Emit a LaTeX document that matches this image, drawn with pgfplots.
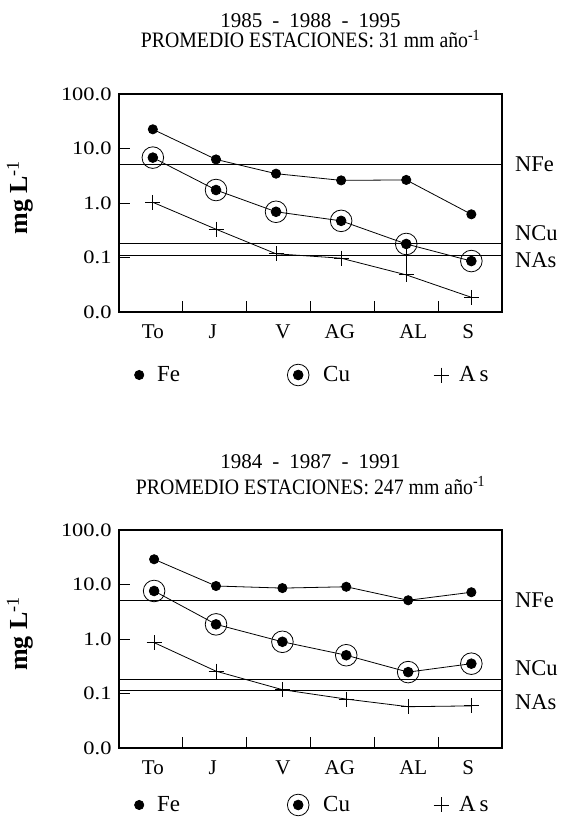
\documentclass[border=0pt]{standalone}
\usepackage{fontspec}
\setmainfont{Liberation Serif}
\newfontfamily\ywide{Liberation Serif}[FakeStretch=1.18]
\newfontfamily\tnarrow{Liberation Serif}[FakeStretch=0.9]
\usepackage{pgfplots}
\pgfplotsset{compat=1.18}

\pgfdeclareplotmark{cuo}{%
  \pgfpathcircle{\pgfpointorigin}{\pgfplotmarksize}\pgfusepathqstroke
  \pgfpathcircle{\pgfpointorigin}{0.45\pgfplotmarksize}\pgfusepathqfillstroke}

\pgfplotsset{legend image code/.code={%
     \path[draw=none, fill=none, use as bounding box] (-12pt,-8pt) rectangle (16pt,8pt);
     \draw[#1, only marks] plot coordinates {(0pt,0pt)};}}

\pgfplotsset{
  width=383pt, height=218pt, scale only axis, clip=false,
  xmin=0, xmax=6,
  tick align=inside, major tick length=11pt,
  xtick pos=bottom, ytick pos=left,
  tick style={line width=0.8pt, black},
  axis line style={line width=1.8pt},
  /pgf/number format/assume math mode=true,
  ticklabel style={font=\fontsize{21}{24}\selectfont},
  xticklabel style={yshift=-9pt},
  yticklabel style={font=\ywide\fontsize{19}{22}\selectfont, xshift=-4pt},
  every axis y label/.style={at={(axis description cs:-0.258,0.525)}, rotate=90, anchor=center,
     font=\fontsize{26}{28}\selectfont},
  every axis plot/.append style={black, line width=0.8pt},
  legend columns=3,
  legend style={draw=none, fill=none, inner sep=0pt, column sep=0pt,
     font=\fontsize{23}{25}\selectfont, anchor=west},
}
\tikzset{fe/.style={mark=*, mark size=4.6pt},
         cu/.style={mark=cuo, mark size=10.8pt, mark options={line width=0.8pt}},
         as/.style={mark=+, mark size=7.5pt, mark options={line width=0.8pt}},
         nlab/.style={anchor=west, inner sep=0pt, xshift=13pt, font=\fontsize{22.5}{24}\selectfont},
         ttl/.style={anchor=base, font=\tnarrow\fontsize{22}{24}\selectfont}}
\newcommand\legendtexts{\legend{\makebox[127pt][l]{Fe},\makebox[111pt][l]{\hspace{7pt}Cu},A\,s}}

\begin{document}
\begin{tikzpicture}
\path[use as bounding box] (0,0) rectangle (561pt,830pt);

% ---------------- top panel ----------------
\begin{axis}[at={(119pt,518pt)}, anchor=south west,
  ymode=log, ymin=0.01, ymax=100,
  ytick={0.01,0.1,1,10,100}, yticklabels={0.0,0.1,1.0,10.0,100.0},
  yminorticks=false,
  xtick={1,2,3,4,5}, xticklabels={},
  extra x ticks={0.53,1.47,2.57,3.46,4.61,5.47},
  extra x tick labels={To,J,V,AG,AL,S},
  extra x tick style={major tick length=0pt},
  ylabel={\textbf{mg L}\textsuperscript{-1}},
  legend style={at={(axis description cs:0.0209,-0.289)}}]
\addplot[fe] coordinates {(0.53,22.5)(1.52,6.3)(2.46,3.45)(3.48,2.6)(4.5,2.65)(5.52,0.62)};
\addplot[cu] coordinates {(0.53,6.8)(1.52,1.73)(2.46,0.69)(3.48,0.47)(4.5,0.177)(5.52,0.086)};
\addplot[as] coordinates {(0.53,1.03)(1.52,0.33)(2.46,0.117)(3.48,0.097)(4.5,0.048)(5.52,0.0186)};
\legendtexts
\addplot[line width=0.8pt, forget plot] coordinates {(4.5,0.177)(4.5,0.048)};
\addplot[line width=0.8pt, forget plot] coordinates {(0,5.1)(6,5.1)};
\addplot[line width=0.8pt, forget plot] coordinates {(0,0.18)(6,0.18)};
\addplot[line width=0.8pt, forget plot] coordinates {(0,0.111)(6,0.111)};
\node[nlab] at (axis cs:6,5.2) {NFe};
\node[nlab] at (axis cs:6,0.28) {NCu};
\node[nlab] at (axis cs:6,0.09) {NAs};
\node[anchor=base, font=\fontsize{21}{22}\selectfont, yshift=66pt] at (rel axis cs:0.5,1) {1985\hspace{0.48em}-\hspace{0.48em}1988\hspace{0.48em}-\hspace{0.48em}1995};
\node[ttl, yshift=46pt] at (rel axis cs:0.5,1) {PROMEDIO ESTACIONES: 31 mm año\textsuperscript{-1}};
\end{axis}

% ---------------- bottom panel ----------------
\begin{axis}[at={(119pt,81.7pt)}, anchor=south west,
  ymode=log, ymin=0.01, ymax=100,
  ytick={0.01,0.1,1,10,100}, yticklabels={0.0,0.1,1.0,10.0,100.0},
  yminorticks=false,
  xtick={1,2,3,4,5}, xticklabels={},
  extra x ticks={0.53,1.47,2.57,3.46,4.61,5.47},
  extra x tick labels={To,J,V,AG,AL,S},
  extra x tick style={major tick length=0pt},
  ylabel={\textbf{mg L}\textsuperscript{-1}},
  legend style={at={(axis description cs:0.0209,-0.26)}}]
\addplot[fe] coordinates {(0.55,29.4)(1.52,9.5)(2.56,8.7)(3.56,9.2)(4.53,5.2)(5.52,7.3)};
\addplot[cu] coordinates {(0.55,7.7)(1.52,1.88)(2.56,0.90)(3.56,0.51)(4.53,0.25)(5.52,0.357)};
\addplot[as] coordinates {(0.55,0.87)(1.52,0.26)(2.56,0.119)(3.56,0.080)(4.53,0.058)(5.52,0.060)};
\legendtexts
\addplot[line width=0.8pt, forget plot] coordinates {(0,5.25)(6,5.25)};
\addplot[line width=0.8pt, forget plot] coordinates {(0,0.187)(6,0.187)};
\addplot[line width=0.8pt, forget plot] coordinates {(0,0.117)(6,0.117)};
\node[nlab] at (axis cs:6,5.2) {NFe};
\node[nlab] at (axis cs:6,0.30) {NCu};
\node[nlab] at (axis cs:6,0.071) {NAs};
\node[anchor=base, font=\fontsize{21}{22}\selectfont, yshift=62pt] at (rel axis cs:0.5,1) {1984\hspace{0.48em}-\hspace{0.48em}1987\hspace{0.48em}-\hspace{0.48em}1991};
\node[ttl, yshift=36pt] at (rel axis cs:0.5,1) {PROMEDIO ESTACIONES: 247 mm año\textsuperscript{-1}};
\end{axis}
\end{tikzpicture}
\end{document}
